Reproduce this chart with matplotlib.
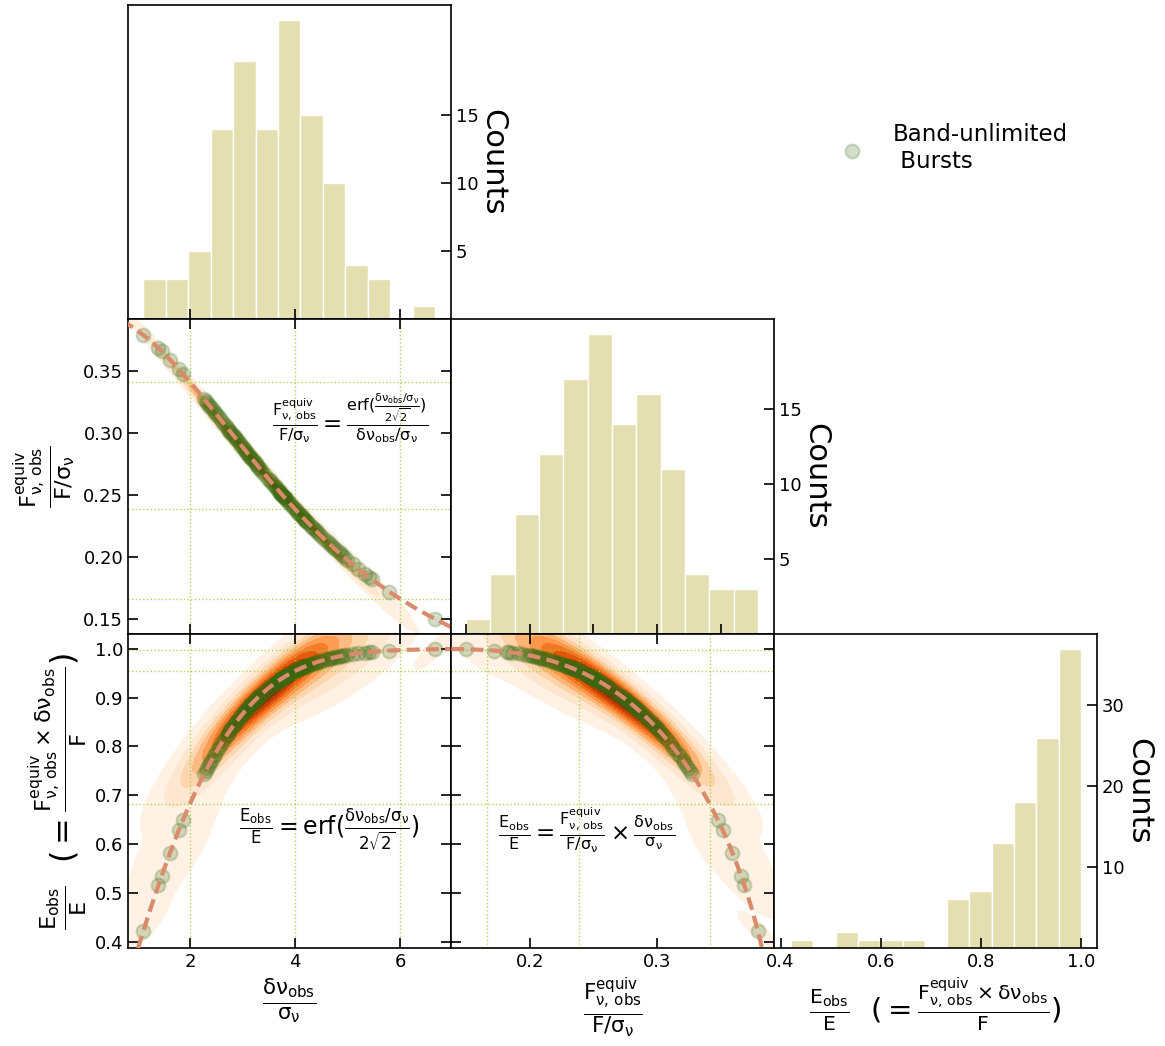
import math
import matplotlib.pyplot as plt
import numpy as np
import seaborn as sns

plt.rcParams['mathtext.default'] = 'regular'

# observed burst widths in units of the channel sigma (delta nu_obs / sigma_nu)
dnu = np.array([
    1.11, 1.40, 1.46,
    1.62, 1.79, 1.87,
    2.27, 2.30, 2.33, 2.36, 2.388,
    2.41, 2.45, 2.48, 2.52, 2.55, 2.59, 2.63, 2.66, 2.70, 2.72,
    2.75, 2.77, 2.79, 2.81,
    2.83, 2.85, 2.88, 2.90, 2.93, 2.95, 2.98, 3.005, 3.03, 3.05,
    3.07, 3.085, 3.11, 3.13, 3.15, 3.17, 3.19, 3.21, 3.235,
    3.26, 3.28, 3.30, 3.32, 3.35, 3.38, 3.43, 3.49, 3.52, 3.55,
    3.58, 3.61, 3.63, 3.66,
    3.69, 3.70, 3.71, 3.72, 3.735, 3.75, 3.76, 3.775, 3.79, 3.80,
    3.815, 3.83, 3.845, 3.87, 3.90, 3.93, 3.96, 3.985,
    4.02, 4.04, 4.06, 4.08,
    4.11, 4.13, 4.15, 4.17, 4.19, 4.21, 4.23, 4.255,
    4.30, 4.33, 4.36, 4.39, 4.42, 4.46, 4.50,
    4.56, 4.60, 4.64, 4.68, 4.72, 4.77, 4.81, 4.85, 4.89, 4.93,
    4.99, 5.10, 5.20, 5.33,
    5.40, 5.46, 5.79,
    6.67,
])
ref_widths = [2, 4, 6]
n_bins = [13, 12, 13]


def erf(v):
    return np.array([math.erf(t) for t in np.atleast_1d(v)])


def frac_energy(w):
    return erf(np.asarray(w) / (2 * np.sqrt(2)))


def flux_ratio(w):
    return frac_energy(w) / np.asarray(w)


eobs = frac_energy(dnu)
fobs = flux_ratio(dnu)
data = [dnu, fobs, eobs]

w_curve = np.linspace(0.7, 9, 600)
curves = [w_curve, flux_ratio(w_curve), frac_energy(w_curve)]
refs = [np.array(ref_widths, float), flux_ratio(ref_widths), frac_energy(ref_widths)]

lims = [(0.82, 6.97), (0.138, 0.392), (0.387, 1.031)]
ticks = [[2, 4, 6], [0.15, 0.20, 0.25, 0.30, 0.35], [0.4, 0.5, 0.6, 0.7, 0.8, 0.9, 1.0]]
xticks_bottom = [[2, 4, 6], [0.2, 0.3], [0.4, 0.6, 0.8, 1.0]]
count_ticks = [[5, 10, 15], [5, 10, 15], [10, 20, 30]]

lab_dnu = r'$\frac{\delta\nu_{obs}}{\sigma_\nu}$'
lab_f = r'$\frac{F^{equiv}_{\nu,\,obs}}{F/\sigma_\nu}$'
lab_e = r'$\frac{E_{obs}}{E}$  $(=\frac{F^{equiv}_{\nu,\,obs}\times\delta\nu_{obs}}{F})$'
labels = [lab_dnu, lab_f, lab_e]

hist_color = '#e4dfb0'
pt_color = '#3a6b14'
line_color = '#d98b6c'
ref_color = '#9acd32'

fig, axes = plt.subplots(3, 3, figsize=(11.65, 10.46), dpi=100)
fig.subplots_adjust(left=0.1099, right=0.9416, bottom=0.0937, top=0.9952,
                    wspace=0, hspace=0)

for i in range(3):
    for j in range(3):
        ax = axes[i, j]
        if j > i:
            ax.axis('off')
            continue
        for s in ax.spines.values():
            s.set_linewidth(1.2)
        if i == j:
            ax.hist(data[i], bins=n_bins[i], color=hist_color,
                    edgecolor='white', linewidth=1)
            ax.set_xlim(lims[i])
            ax.set_xticks(xticks_bottom[i] if i == 2 else ticks[i])
            ax.set_yticks(count_ticks[i])
            ax.yaxis.set_label_position('right')
            ax.set_ylabel('Counts', fontsize=22, rotation=270, va='bottom', labelpad=0)
            ax.tick_params(direction='in', length=7, width=1.2, labelsize=13,
                           left=False, labelleft=False, right=True, labelright=True,
                           top=False, bottom=True, labelbottom=(i == 2))
            if i == 2:
                ax.set_xlabel(labels[2], fontsize=21)
            continue

        x, y = data[j], data[i]
        sns.kdeplot(x=x, y=y, fill=True, cmap='Oranges', bw_adjust=1.3, thresh=0.03,
                    ax=ax, zorder=1)
        for r in refs[j]:
            ax.axvline(r, color=ref_color, ls=':', lw=1, alpha=0.8, zorder=1.5)
        for r in refs[i]:
            ax.axhline(r, color=ref_color, ls=':', lw=1, alpha=0.8, zorder=1.5)
        ax.scatter(x, y, s=100, color=pt_color, alpha=0.22, linewidths=1.5,
                   zorder=2, label='Band-unlimited\n Bursts')
        ax.plot(curves[j], curves[i], ls=(0, (3.1, 1.5)), lw=3,
                color=line_color, zorder=3)
        ax.set_xlim(lims[j])
        ax.set_ylim(lims[i])
        ax.set_xticks(xticks_bottom[j] if i == 2 else ticks[j])
        ax.set_yticks(ticks[i])
        ax.tick_params(direction='in', length=7, width=1.2, labelsize=13,
                       top=True, right=True,
                       labelleft=(j == 0), labelbottom=(i == 2))
        ax.set_xlabel(labels[j] if i == 2 else '', fontsize=22)
        ax.set_ylabel(labels[i] if j == 0 else '', fontsize=23)

axes[1, 0].text(0.687, 0.685,
                r'$\frac{F^{equiv}_{\nu,\,obs}}{F/\sigma_\nu} = '
                r'\frac{erf(\frac{\delta\nu_{obs}/\sigma_\nu}{2\sqrt{2}})}{\delta\nu_{obs}/\sigma_\nu}$',
                transform=axes[1, 0].transAxes, ha='center', va='center', fontsize=16.5)
axes[2, 0].text(0.625, 0.375,
                r'$\frac{E_{obs}}{E} = erf(\frac{\delta\nu_{obs}/\sigma_\nu}{2\sqrt{2}})$',
                transform=axes[2, 0].transAxes, ha='center', va='center', fontsize=17)
axes[2, 1].text(0.421, 0.375,
                r'$\frac{E_{obs}}{E} = \frac{F^{equiv}_{\nu,\,obs}}{F/\sigma_\nu}'
                r' \times \frac{\delta\nu_{obs}}{\sigma_\nu}$',
                transform=axes[2, 1].transAxes, ha='center', va='center', fontsize=16.5)

handles, labs = axes[1, 0].get_legend_handles_labels()
fig.legend(handles[:1], labs[:1], loc='center left', bbox_to_anchor=(0.6936, 0.8585),
           frameon=False, fontsize=16.5)

fig.savefig('out.png', dpi=100)
